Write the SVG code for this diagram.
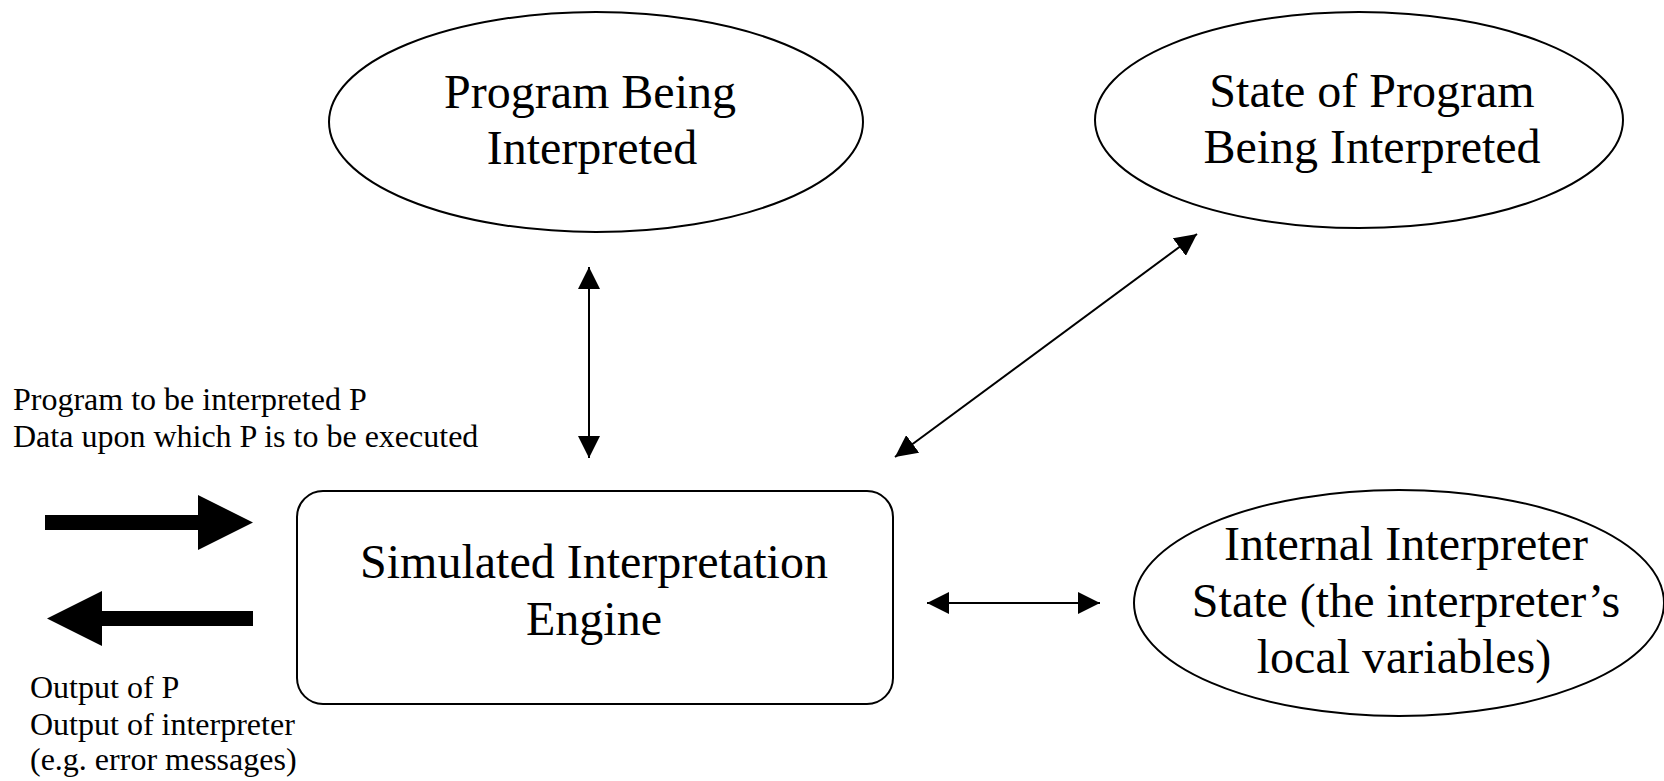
<svg xmlns="http://www.w3.org/2000/svg" width="1664" height="781" viewBox="0 0 1664 781">
<style>
  .shape { fill: #fff; stroke: #000; stroke-width: 2; }
  .big { font-family: "Liberation Serif", "Times New Roman", serif; font-size: 48px; fill: #000; text-anchor: middle; }
  .small { font-family: "Liberation Serif", "Times New Roman", serif; font-size: 32px; fill: #000; }
  .conn { stroke: #000; stroke-width: 2; fill: none; marker-start: url(#ah); marker-end: url(#ah); }
</style>
<defs>
  <marker id="ah" viewBox="0 0 22 22" refX="22" refY="11" markerWidth="22" markerHeight="22" markerUnits="userSpaceOnUse" orient="auto-start-reverse">
    <path d="M0,0 L22,11 L0,22 Z" fill="#000"/>
  </marker>
</defs>
<rect width="1664" height="781" fill="#fff"/>

<g id="program">
  <ellipse class="shape" cx="596" cy="122" rx="267" ry="110"/>
  <text class="big" x="590" y="108">Program Being</text>
  <text class="big" x="592" y="164">Interpreted</text>
</g>

<g id="state">
  <ellipse class="shape" cx="1359" cy="120" rx="264" ry="108"/>
  <text class="big" x="1372" y="107">State of Program</text>
  <text class="big" x="1372" y="163">Being Interpreted</text>
</g>

<g id="engine">
  <rect class="shape" x="297" y="491" width="596" height="213" rx="26" ry="26"/>
  <text class="big" x="594" y="578">Simulated Interpretation</text>
  <text class="big" x="594" y="635">Engine</text>
</g>

<g id="internal">
  <ellipse class="shape" cx="1399" cy="603" rx="265" ry="113"/>
  <text class="big" x="1406" y="560">Internal Interpreter</text>
  <text class="big" x="1406" y="617">State (the interpreter’s</text>
  <text class="big" x="1404" y="673">local variables)</text>
</g>

<g id="input-label">
  <text class="small" x="13" y="410">Program to be interpreted P</text>
  <text class="small" x="13" y="447">Data upon which P is to be executed</text>
</g>

<g id="output-label">
  <text class="small" x="30" y="698">Output of P</text>
  <text class="small" x="30" y="735">Output of interpreter</text>
  <text class="small" x="30" y="770">(e.g. error messages)</text>
</g>

<g id="connectors">
  <line class="conn" x1="589" y1="267" x2="589" y2="458"/>
  <line class="conn" x1="895" y1="457" x2="1197" y2="234"/>
  <line class="conn" x1="927" y1="603" x2="1100" y2="603"/>
  <path d="M45,515 H198 V495 L253,522.5 L198,550 V530 H45 Z" fill="#000"/>
  <path d="M253,611 H102 V591 L47,618.5 L102,646 V626 H253 Z" fill="#000"/>
</g>
</svg>
